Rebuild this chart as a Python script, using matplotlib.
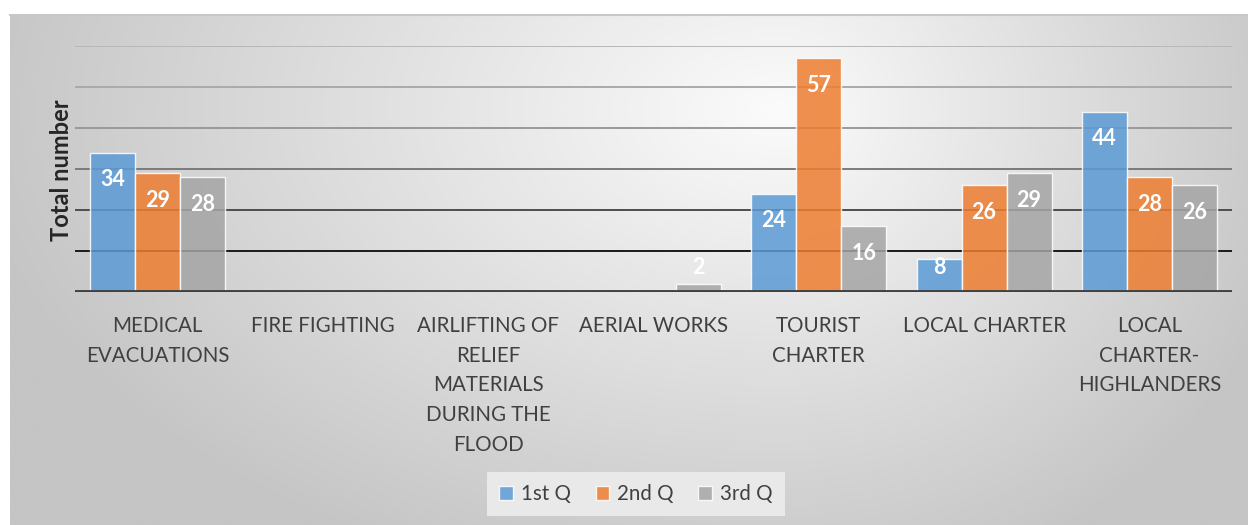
import numpy as np
import matplotlib
matplotlib.use("Agg")
import matplotlib.pyplot as plt
from matplotlib.patches import Patch

categories = ["MEDICAL\nEVACUATIONS", "FIRE FIGHTING", "AIRLIFTING OF\nRELIEF\nMATERIALS\nDURING THE\nFLOOD",
              "AERIAL WORKS", "TOURIST\nCHARTER", "LOCAL CHARTER", "LOCAL\nCHARTER-\nHIGHLANDERS"]
series_names = ["1st Q", "2nd Q", "3rd Q"]
q1 = [34, 0, 0, 0, 24, 8, 44]
q2 = [29, 0, 0, 0, 57, 26, 28]
q3 = [28, 0, 0, 2, 16, 29, 26]
series_values = [q1, q2, q3]
colors = ["#5B9BD5", "#ED7D31", "#A5A5A5"]
grid_vals = [10, 20, 30, 40, 50, 60]
grid_cols = ["#1a1a1a", "#4d4d4d", "#7a7a7a", "#999999", "#aaaaaa", "#b8b8b8"]

W, H = 1248, 525
fig = plt.figure(figsize=(W / 100, H / 100), dpi=100)
fig.patch.set_facecolor("white")

# background gradient panel
bx0, by0 = 10, 15
bg = fig.add_axes([bx0 / W, 0, (W - bx0) / W, (H - by0) / H])
bg.set_axis_off()
xs = np.linspace(bx0, W, 600)
ys = np.linspace(by0, H, 260)
X, Y = np.meshgrid(xs, ys)
cx, cy = 780, 110
rx = np.where(X < cx, 820.0, 540.0)
ry = 500.0
R = np.sqrt(((X - cx) / rx) ** 2 + ((Y - cy) / ry) ** 2)
R = np.clip(R, 0, 1)
lo, hi = 251, 197
G = (hi + (lo - hi) * (1 - R)) / 255.0
img = np.dstack([G, G, G])
bg.imshow(img, extent=[0, 1, 0, 1], aspect="auto", origin="upper")
bg.set_xlim(0, 1)
bg.set_ylim(0, 1)
bg.plot([0, 1], [1, 1], color="#c8c8c8", lw=1.5, transform=bg.transAxes, clip_on=False)

# main axes
L, R_, T, B = 75, 1232, 46, 292
ax = fig.add_axes([L / W, (H - B) / H, (R_ - L) / W, (B - T) / H])
ax.patch.set_alpha(0)
ax.set_xlim(-0.5, len(categories) - 0.5)
ax.set_ylim(0, 60)
for s in ax.spines.values():
    s.set_visible(False)

for gv, gc in zip(grid_vals, grid_cols):
    ax.axhline(gv, color=gc, lw=1.4, zorder=1)
ax.axhline(0, color="#404040", lw=3.5, zorder=4)

bw = 0.272
x = np.arange(len(categories))
px_per_unit = (B - T) / 60.0
for k, (vals, c) in enumerate(zip(series_values, colors)):
    xpos = x + (k - 1) * bw
    ax.bar(xpos, vals, width=bw, color=c, alpha=0.85, edgecolor=(1, 1, 1, 0.6), linewidth=1, zorder=2)
    for xi, v in zip(xpos, vals):
        if v == 0:
            continue
        ly = max(v - 27 / px_per_unit, 6.0)
        ax.text(xi, ly, str(v), ha="center", va="center", color="white", fontsize=15.5,
                fontweight="bold", family="Lato", zorder=5)

ax.set_yticks([])
ax.set_xticks(x)
ax.set_xticklabels(categories, fontsize=14.8, family="Lato", color="#404040", linespacing=1.62, va="top")
ax.tick_params(axis="x", length=0, pad=17)

fig.text(62 / W, 1 - 170 / H, "Total number", rotation=90, ha="center", va="center",
         fontsize=17, fontweight="bold", family="Lato", color="#262626")

handles = [Patch(facecolor=c, alpha=0.85, edgecolor=(1, 1, 1, 0.6)) for c in colors]
leg = fig.legend(handles, series_names, loc="center", bbox_to_anchor=(636 / W, (H - 494) / H), ncol=3,
                 frameon=True, fancybox=False, facecolor="#e9e9e9", edgecolor="none", framealpha=1,
                 prop={"family": "Lato", "size": 14.8}, handlelength=0.65, handleheight=0.65,
                 handletextpad=0.4, columnspacing=1.2, borderpad=0.6)
for t in leg.get_texts():
    t.set_color("#404040")

fig.savefig("out.png", dpi=100)
